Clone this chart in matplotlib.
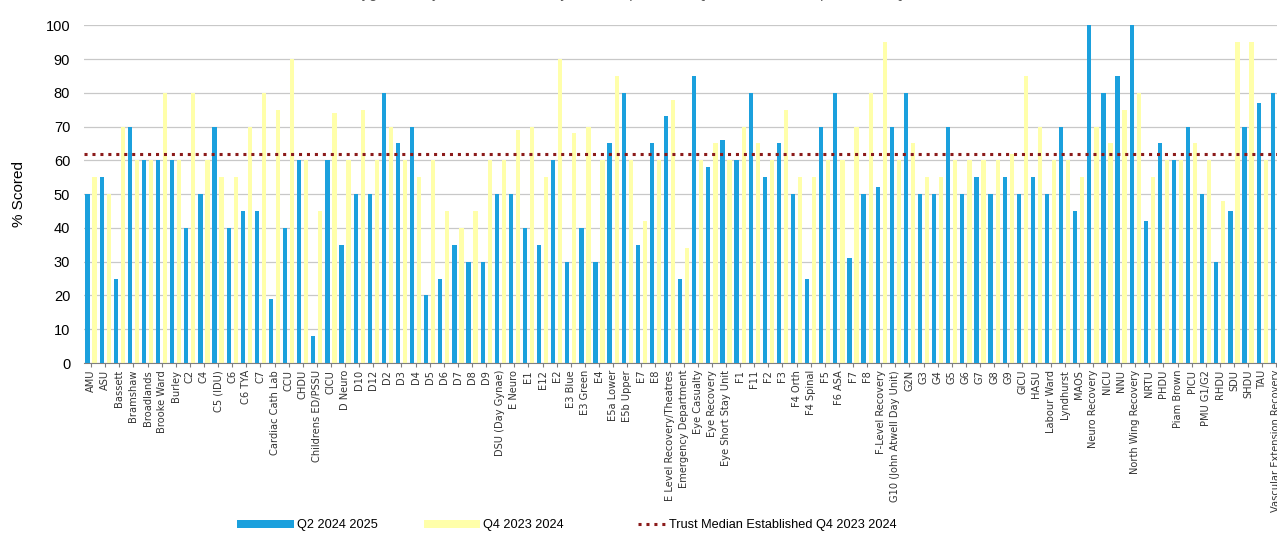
import matplotlib
matplotlib.use("Agg")
import matplotlib.pyplot as plt
from matplotlib.lines import Line2D
from matplotlib.patches import Patch
from matplotlib.legend_handler import HandlerLine2D
import numpy as np

plt.rcParams['font.family'] = ['Liberation Sans', 'DejaVu Sans']

wards = [
    "AMU", "ASU", "Bassett", "Bramshaw", "Broadlands", "Brooke Ward", "Burley",
    "C2", "C4", "C5 (IDU)", "C6", "C6 TYA", "C7", "Cardiac Cath Lab", "CCU",
    "CHDU", "Childrens ED/PSSU", "CICU", "D Neuro", "D10", "D12", "D2", "D3",
    "D4", "D5", "D6", "D7", "D8", "D9", "DSU (Day Gynae)", "E Neuro", "E1",
    "E12", "E2", "E3 Blue", "E3 Green", "E4", "E5a Lower", "E5b Upper", "E7",
    "E8", "E Level Recovery/Theatres", "Emergency Department", "Eye Casualty",
    "Eye Recovery", "Eye Short Stay Unit", "F1", "F11", "F2", "F3", "F4 Orth",
    "F4 Spinal", "F5", "F6 ASA", "F7", "F8", "F-Level Recovery",
    "G10 (John Atwell Day Unit)", "G2N", "G3", "G4", "G5", "G6", "G7", "G8",
    "G9", "GICU", "HASU", "Labour Ward", "Lyndhurst", "MAOS", "Neuro Recovery",
    "NICU", "NNU", "North Wing Recovery", "NRTU", "PHDU", "Piam Brown", "PICU",
    "PMU G1/G2", "RHDU", "SDU", "SHDU", "TAU", "Vascular Extension Recovery",
]

q2_2024_2025 = [
    50, 55, 25, 70, 60, 60, 60, 40, 50, 70, 40, 45, 45, 19, 40,
    60, 8, 60, 35, 50, 50, 80, 65, 70, 20, 25, 35, 30, 30, 50,
    50, 40, 35, 60, 30, 40, 30, 65, 80, 35, 65, 73, 25, 85, 58,
    66, 60, 80, 55, 65, 50, 25, 70, 80, 31, 50, 52, 70, 80, 50,
    50, 70, 50, 55, 50, 55, 50, 55, 50, 70, 45, 100, 80, 85, 100,
    42, 65, 60, 70, 50, 30, 45, 70, 77, 80,
]

q4_2023_2024 = [
    55, 50, 70, 60, 60, 80, 60, 80, 60, 55, 55, 70, 80, 75, 90,
    60, 45, 74, 60, 75, 60, 70, 60, 55, 60, 45, 40, 45, 60, 60,
    69, 70, 55, 90, 68, 70, 60, 85, 60, 42, 60, 78, 34, 60, 65,
    60, 70, 65, 60, 75, 55, 55, 60, 60, 70, 80, 95, 60, 65, 55,
    55, 60, 60, 60, 60, 62, 85, 70, 60, 60, 55, 70, 65, 75, 80,
    55, 60, 60, 65, 60, 48, 95, 95, 60, 60,
]

trust_median = 62

title = "Oxygen Safety Audit: % Scored by Ward/Department, Q2 2024 2025 compared with Q4 2023 2024"

blue = "#1BA0DD"
yellow = "#FFFFAA"
median_color = "#8B1A1A"
dots = (0, (1, 1.6))


class ShortLineHandler(HandlerLine2D):
    """Draws the legend line only over the right part of the handle box."""

    def create_artists(self, legend, orig_handle, xdescent, ydescent, width,
                       height, fontsize, trans):
        x0 = width * 0.5 - xdescent
        x1 = width - xdescent
        y = (height - ydescent) / 2
        line = Line2D([x0, x1], [y, y])
        self.update_prop(line, orig_handle, legend)
        line.set_transform(trans)
        return [line]


fig = plt.figure(figsize=(12.77, 5.37), dpi=100)
ax = fig.add_axes([0.0658, 0.324, 0.9342, 0.629])

x = np.arange(len(wards))
bw = 0.3
ax.bar(x - 0.25, q2_2024_2025, width=bw, color=blue, zorder=3)
ax.bar(x + 0.25, q4_2023_2024, width=bw, color=yellow, zorder=2)
ax.axhline(trust_median, color=median_color, linestyle=dots,
           linewidth=2.2, zorder=4)

ax.set_ylim(0, 100)
ax.set_xlim(-0.5, 84.05)
ax.set_yticks(range(0, 101, 10))
ax.yaxis.grid(True, color="#C8C8C8", linewidth=0.9, zorder=0)
ax.set_axisbelow(True)
for side in ("top", "right", "left"):
    ax.spines[side].set_visible(False)
ax.spines["bottom"].set_color("#808080")
ax.tick_params(axis="y", length=0, labelsize=10.5, pad=10)
ax.tick_params(axis="x", length=3, color="#808080", pad=2)
ax.set_xticks(x)
ax.set_xticklabels(wards, rotation=90, fontsize=7.1, color="#333333",
                   family="DejaVu Sans")
ax.set_ylabel("% Scored", fontsize=11, labelpad=14)

fig.text(0.52, 1.012, title, ha="center", va="center", fontsize=10.5,
         color="#555555")

handles = [
    Patch(facecolor=blue, edgecolor="none"),
    Patch(facecolor=yellow, edgecolor="none"),
    Line2D([0], [0], color=median_color, linestyle=dots, linewidth=2.2),
]
labels = ["Q2 2024 2025", "Q4 2023 2024", "Trust Median Established Q4 2023 2024"]
fig.legend(handles, labels, loc="center", bbox_to_anchor=(0.444, 0.022), ncol=3,
           frameon=False, fontsize=9.2, handlelength=4.4, handleheight=0.55,
           columnspacing=3.6, handletextpad=0.25,
           handler_map={handles[2]: ShortLineHandler()})

fig.savefig("out.png", dpi=100)
